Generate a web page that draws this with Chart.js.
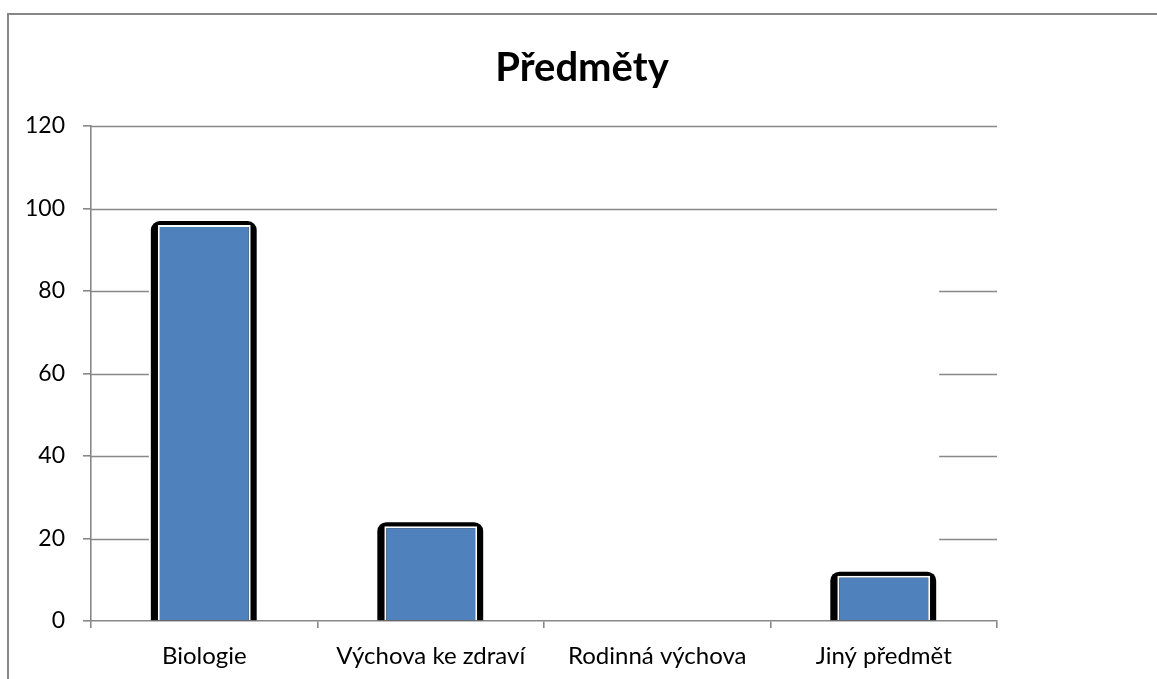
<!DOCTYPE html>
<html>
<head>
<meta charset="utf-8">
<script src="https://cdn.jsdelivr.net/npm/chart.js@4/dist/chart.umd.min.js"></script>
<style>
  html, body { margin: 0; padding: 0; background: #fff; }
  #wrap { position: relative; width: 1157px; height: 679px; overflow: hidden; }
  #frame { position: absolute; left: 7px; top: 13px; width: 1200px; height: 700px; border: 2px solid #868686; box-sizing: border-box; }
  #chart { position: absolute; left: 0; top: 0; }
</style>
</head>
<body>
<div id="wrap">
  <div id="frame"></div>
  <canvas id="chart" width="1157" height="679"></canvas>
</div>
<script>
const categories = ['Biologie', 'Výchova ke zdraví', 'Rodinná výchova', 'Jiný předmět'];
const values = [96, 23, 0, 11];
const yTicks = [0, 20, 40, 60, 80, 100, 120];

const gridColor = '#888888';
const barColor = '#4f81bd';
const fontFamily = 'Lato, "Liberation Sans", sans-serif';
const shadowSpread = 7;

// lignes de grille : interrompues derrière la zone des barres (comme l'original)
const gridSegments = {
    id: 'gridSegments',
    beforeDatasetsDraw(chart) {
        const { ctx, chartArea, scales } = chart;
        const meta = chart.getDatasetMeta(0);
        const first = meta.data[0];
        const last = meta.data[meta.data.length - 1];
        const gapLeft = first.x - first.width / 2 - shadowSpread - 2;
        const gapRight = last.x + last.width / 2 + shadowSpread + 2;
        const highest = Math.max(...values);
        ctx.save();
        ctx.strokeStyle = gridColor;
        ctx.lineWidth = 1.6;
        scales.y.ticks.forEach(t => {
            if (t.value === 0) return;
            const py = Math.round(scales.y.getPixelForValue(t.value)) + 0.5;
            ctx.beginPath();
            if (t.value > highest) {
                ctx.moveTo(chartArea.left, py);
                ctx.lineTo(chartArea.right, py);
            } else {
                ctx.moveTo(chartArea.left, py);
                ctx.lineTo(gapLeft, py);
                ctx.moveTo(gapRight, py);
                ctx.lineTo(chartArea.right, py);
            }
            ctx.stroke();
        });
        ctx.restore();
    }
};

// ombre noire arrondie derrière chaque barre
const barShadow = {
    id: 'barShadow',
    beforeDatasetsDraw(chart) {
        const { ctx } = chart;
        const meta = chart.getDatasetMeta(0);
        ctx.save();
        ctx.fillStyle = '#000';
        meta.data.forEach(bar => {
            const { x, y, base, width } = bar.getProps(['x', 'y', 'base', 'width'], true);
            if (base - y < 1) return;
            const left = x - width / 2 - shadowSpread;
            ctx.beginPath();
            ctx.roundRect(left, y - 4, width + shadowSpread * 2 - 1, base - y + 4, [9, 9, 0, 0]);
            ctx.fill();
        });
        ctx.restore();
    }
};

new Chart(document.getElementById('chart').getContext('2d'), {
    type: 'bar',
    data: {
        labels: categories,
        datasets: [{
            label: 'Předměty',
            data: values,
            backgroundColor: barColor,
            borderColor: '#ffffff',
            borderWidth: 2,
            borderSkipped: 'bottom',
            barPercentage: 0.41,
            categoryPercentage: 1
        }]
    },
    options: {
        responsive: false,
        animation: false,
        layout: { padding: { left: 7, right: 0, top: 0, bottom: 0 } },
        plugins: {
            legend: { display: false },
            tooltip: { enabled: false },
            title: {
                display: true,
                text: 'Předměty',
                color: '#000',
                font: { family: fontFamily, size: 40, weight: 'bold' },
                padding: { top: 44, bottom: 34 }
            }
        },
        scales: {
            x: {
                offset: true,
                grid: { display: true, drawOnChartArea: false, offset: true, color: gridColor, lineWidth: 1.6, tickLength: 7 },
                border: { color: gridColor, width: 1.6 },
                ticks: { color: '#000', font: { family: fontFamily, size: 24, lineHeight: 1 }, padding: 16, maxRotation: 0 },
                afterFit: axis => { axis.height = 58; }
            },
            y: {
                min: 0,
                max: 120,
                afterBuildTicks: axis => { axis.ticks = yTicks.map(v => ({ value: v })); },
                grid: { display: true, drawOnChartArea: false, color: gridColor, lineWidth: 1.6, tickLength: 8 },
                border: { color: gridColor, width: 1.6 },
                ticks: { color: '#000', font: { family: fontFamily, size: 23 }, padding: 18 }
            },
            // zone vide à droite (emplacement de la légende masquée)
            spacer: {
                position: 'right',
                display: true,
                grid: { display: false },
                border: { display: false },
                ticks: { display: false },
                afterFit: axis => { axis.width = 160; }
            }
        }
    },
    plugins: [gridSegments, barShadow]
});
</script>
</body>
</html>
